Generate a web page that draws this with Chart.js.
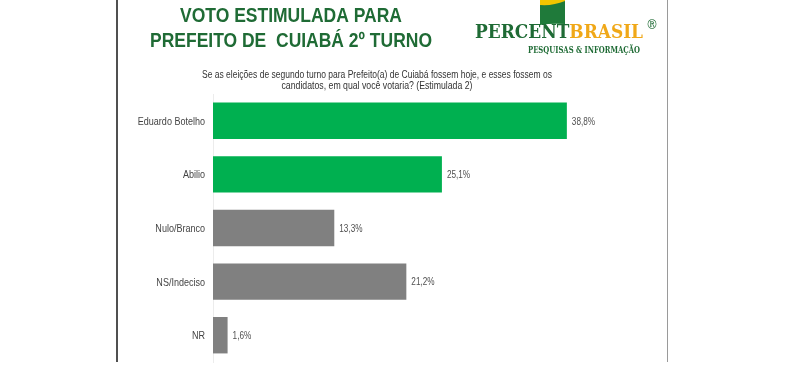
<!DOCTYPE html>
<html>
<head>
<meta charset="utf-8">
<script src="https://cdn.jsdelivr.net/npm/chart.js@4"></script>
<style>
html,body{margin:0;padding:0;background:#fff;}
#wrap{position:relative;width:799px;height:382px;}
</style>
</head>
<body>
<div id="wrap"><canvas id="c" width="799" height="382"></canvas></div>
<script>
const categories = ["Eduardo Botelho", "Abilio", "Nulo/Branco", "NS/Indeciso", "NR"];
const values = [38.8, 25.1, 13.3, 21.2, 1.6];
const valueLabels = ["38,8%", "25,1%", "13,3%", "21,2%", "1,6%"];
const barColors = ["#00b050", "#00b050", "#808080", "#808080", "#808080"];
const titleLines = ["VOTO ESTIMULADA PARA", "PREFEITO DE  CUIABÁ 2º TURNO"];
const subtitleLines = ["Se as eleições de segundo turno para Prefeito(a) de Cuiabá fossem hoje, e esses fossem os", "candidatos, em qual você votaria? (Estimulada 2)"];

const SANS = '"Liberation Sans", Arial, sans-serif';
const SERIF = '"DejaVu Serif", serif';
const NARROW_K = 0.82;

// draw text horizontally condensed by factor k
function condText(ctx, text, x, y, k, align) {
  const w = ctx.measureText(text).width * k;
  let left = x;
  if (align === 'center') left = x - w / 2;
  else if (align === 'right') left = x - w;
  ctx.save();
  ctx.textAlign = 'left';
  ctx.translate(left, y);
  ctx.scale(k, 1);
  ctx.fillText(text, 0, 0);
  ctx.restore();
}
// draw text fitted to target width, centered
function fitText(ctx, text, cx, y, width) {
  const k = width / ctx.measureText(text).width;
  condText(ctx, text, cx, y, k, 'center');
}

const decor = {
  id: 'decor',
  beforeDraw(chart) {
    const ctx = chart.ctx;
    ctx.save();
    ctx.fillStyle = '#fff';
    ctx.fillRect(0, 0, chart.width, chart.height);
    ctx.strokeStyle = '#505050';
    ctx.lineWidth = 2;
    ctx.beginPath(); ctx.moveTo(117, 0); ctx.lineTo(117, 362); ctx.stroke();
    ctx.strokeStyle = '#9a9a9a';
    ctx.lineWidth = 1;
    ctx.beginPath(); ctx.moveTo(667.5, 0); ctx.lineTo(667.5, 362); ctx.stroke();
    ctx.restore();
  },
  afterDraw(chart) {
    const ctx = chart.ctx;
    ctx.save();
    ctx.textBaseline = 'alphabetic';
    // title
    ctx.fillStyle = '#1f6b35';
    ctx.font = 'bold 20px ' + SANS;
    fitText(ctx, titleLines[0], 291, 22, 222);
    fitText(ctx, titleLines[1], 291, 47, 282);
    // subtitle
    ctx.fillStyle = '#333';
    ctx.font = '10px ' + SANS;
    fitText(ctx, subtitleLines[0], 377, 78, 350);
    fitText(ctx, subtitleLines[1], 377, 89, 191);
    // logo flag
    ctx.fillStyle = '#f2c500';
    ctx.fillRect(540, 0, 25, 6);
    ctx.fillStyle = '#1f7a3a';
    ctx.beginPath();
    ctx.moveTo(540, 5);
    ctx.quadraticCurveTo(553, 6, 565, 1);
    ctx.lineTo(565, 24);
    ctx.quadraticCurveTo(552, 23, 540, 25);
    ctx.closePath();
    ctx.fill();
    // logo text
    ctx.font = 'bold 18px ' + SERIF;
    ctx.textAlign = 'left';
    const w1 = ctx.measureText('PERCENT').width;
    const w2 = ctx.measureText('BRASIL').width;
    const k = 168 / (w1 + w2);
    ctx.save();
    ctx.translate(475, 38);
    ctx.scale(k, 1);
    ctx.fillStyle = '#1f6b35';
    ctx.fillText('PERCENT', 0, 0);
    ctx.fillStyle = '#f0a818';
    ctx.fillText('BRASIL', w1, 0);
    ctx.restore();
    ctx.fillStyle = '#1f6b35';
    ctx.font = '12px ' + SERIF;
    ctx.fillText('®', 646, 29);
    ctx.font = 'bold 8.5px ' + SERIF;
    ctx.fillText('PESQUISAS & INFORMAÇÃO', 528, 53, 112);
    // category labels from the y scale
    const ys = chart.scales.y;
    ctx.font = '11px ' + SANS;
    ctx.fillStyle = '#444';
    ctx.textBaseline = 'middle';
    categories.forEach((c, i) => {
      condText(ctx, c, 205, ys.getPixelForTick(i) + 1, NARROW_K, 'right');
    });
    // value labels
    const meta = chart.getDatasetMeta(0);
    ctx.font = '10px ' + SANS;
    ctx.fillStyle = '#505050';
    meta.data.forEach((bar, i) => {
      condText(ctx, valueLabels[i], bar.x + 5, bar.y + 1, NARROW_K, 'left');
    });
    ctx.restore();
  }
};

new Chart(document.getElementById('c'), {
  type: 'bar',
  data: {
    labels: categories,
    datasets: [{
      data: values,
      backgroundColor: barColors,
      borderWidth: 0,
      barPercentage: 0.8,
      categoryPercentage: 0.85
    }]
  },
  options: {
    indexAxis: 'y',
    responsive: false,
    animation: false,
    events: [],
    layout: { padding: { left: 0, right: 130, top: 94, bottom: 20 } },
    plugins: { legend: { display: false }, tooltip: { enabled: false }, title: { display: false } },
    scales: {
      x: { display: false, min: 0, max: 50 },
      y: {
        afterFit(scale) { scale.width = 213; },
        grid: { display: false },
        border: { display: true, color: '#ececec', width: 1 },
        ticks: { display: false }
      }
    }
  },
  plugins: [decor]
});
</script>
</body>
</html>
